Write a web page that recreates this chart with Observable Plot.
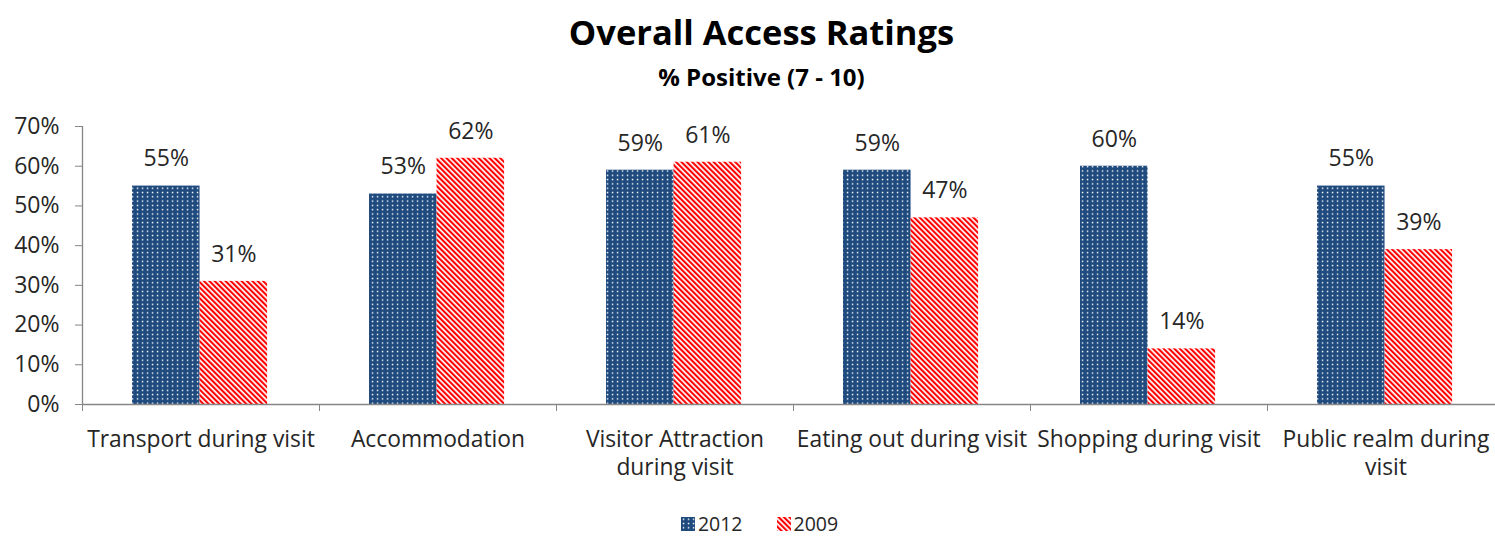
<!DOCTYPE html>
<html>
<head>
<meta charset="utf-8">
<script src="https://cdn.jsdelivr.net/npm/d3@7"></script>
<script src="https://cdn.jsdelivr.net/npm/@observablehq/plot@0.6"></script>
<style>
  body { margin: 0; background: #fff; font-family: "Open Sans", Lato, sans-serif; color: #262626; }
  #wrap { width: 1495px; height: 536px; position: relative; overflow: hidden; }
  #title { position: absolute; left: 14px; width: 1495px; top: 9px; text-align: center; font-weight: bold; font-size: 34.5px; line-height: 46px; color: #000; }
  #subtitle { position: absolute; left: 14px; width: 1495px; top: 62px; text-align: center; font-weight: bold; font-size: 24px; line-height: 30px; color: #000; }
  #chart { position: absolute; left: 0; top: 100px; }
  #legend { position: absolute; left: 24px; width: 1471px; top: 511px; height: 26px; display: flex; justify-content: center; align-items: center; font-size: 19.5px; line-height: 26px; }
  #legend .item { display: flex; align-items: center; gap: 3px; margin: 0 17px; }
</style>
</head>
<body>
<div id="wrap">
  <svg width="0" height="0" style="position:absolute">
    <defs>
      <pattern id="p2012" width="5" height="4.3" patternUnits="userSpaceOnUse">
        <rect width="5" height="4.3" fill="#1f4a7e"></rect>
        <rect x="1.8" y="1.5" width="1.5" height="1.4" fill="#ffffff"></rect>
      </pattern>
      <pattern id="p2009" width="3.8" height="10" patternUnits="userSpaceOnUse" patternTransform="rotate(-45)">
        <rect width="3.8" height="10" fill="#ffffff"></rect>
        <rect width="2.1" height="10" fill="#ff0000"></rect>
      </pattern>
    </defs>
  </svg>
  <div id="title">Overall Access Ratings</div>
  <div id="subtitle">% Positive (7 - 10)</div>
  <div id="chart"></div>
  <div id="legend"></div>
</div>
<script>
const categories = ["Transport during visit", "Accommodation", "Visitor Attraction during visit", "Eating out during visit", "Shopping during visit", "Public realm during visit"];
const categoryLabels = ["Transport during visit", "Accommodation", "Visitor Attraction\nduring visit", "Eating out during visit", "Shopping during visit", "Public realm during\nvisit"];
const series = ["2012", "2009"];
const values2012 = [55, 53, 59, 59, 60, 55];
const values2009 = [31, 62, 61, 47, 14, 39];
const yTicks = [0, 10, 20, 30, 40, 50, 60, 70];

const fills = {"2012": "url(#p2012)", "2009": "url(#p2009)"};
const data2012 = categories.map((c, i) => ({category: c, series: "2012", value: values2012[i]}));
const data2009 = categories.map((c, i) => ({category: c, series: "2009", value: values2009[i]}));
const labelOf = new Map(categories.map((c, i) => [c, categoryLabels[i]]));

const x0 = 82, x1 = 1504;
const step = (x1 - x0) / categories.length;
const gap = step * 0.211;     // outer gap before first bar
const barW = step * 0.285;    // each bar width

const axisGray = "#868686";
const plot = Plot.plot({
  width: 1495,
  height: 400,
  marginTop: 26,
  marginBottom: 96,
  marginLeft: 82,
  marginRight: 0,
  style: {fontFamily: "'Open Sans', Lato, sans-serif", fontSize: "22px", color: "#262626", background: "transparent", overflow: "visible"},
  x: {domain: categories, range: [x0, x1], padding: 0},
  y: {domain: [0, 70]},
  marks: [
    Plot.barY(data2012, {x: "category", y: "value", fill: fills["2012"], insetLeft: gap, insetRight: step - gap - barW}),
    Plot.barY(data2009, {x: "category", y: "value", fill: fills["2009"], insetLeft: gap + barW, insetRight: step - gap - 2 * barW}),
    Plot.text(data2012, {x: "category", y: "value", text: d => d.value + "%", dx: gap + barW / 2 - step / 2, dy: -27, fontSize: 23}),
    Plot.text(data2009, {x: "category", y: "value", text: d => d.value + "%", dx: gap + barW * 1.5 - step / 2, dy: -27, fontSize: 23}),
    Plot.ruleY([0], {stroke: axisGray, strokeWidth: 1.3}),
    Plot.ruleX([categories[0]], {y1: 0, y2: 70, dx: -step / 2, stroke: axisGray, strokeWidth: 1.3}),
    Plot.axisY({ticks: yTicks, tickFormat: d => d + "%", tickSize: 7, tickPadding: 16, stroke: axisGray, fontSize: 23, label: null}),
    Plot.axisX({tickSize: 7, tickFormat: () => "", dx: -step / 2, stroke: axisGray, label: null}),
    Plot.axisX({tickSize: 0, tickPadding: 22, tickFormat: d => labelOf.get(d), lineHeight: 1.25, fontSize: 22.8, label: null})
  ]
});
document.getElementById("chart").appendChild(plot);

const legend = document.getElementById("legend");
for (const s of series) {
  const item = document.createElement("div");
  item.className = "item";
  item.innerHTML = `<svg width="14" height="14"><rect width="14" height="14" fill="${fills[s]}"></rect></svg><span>${s}</span>`;
  legend.appendChild(item);
}
</script>
</body>
</html>
